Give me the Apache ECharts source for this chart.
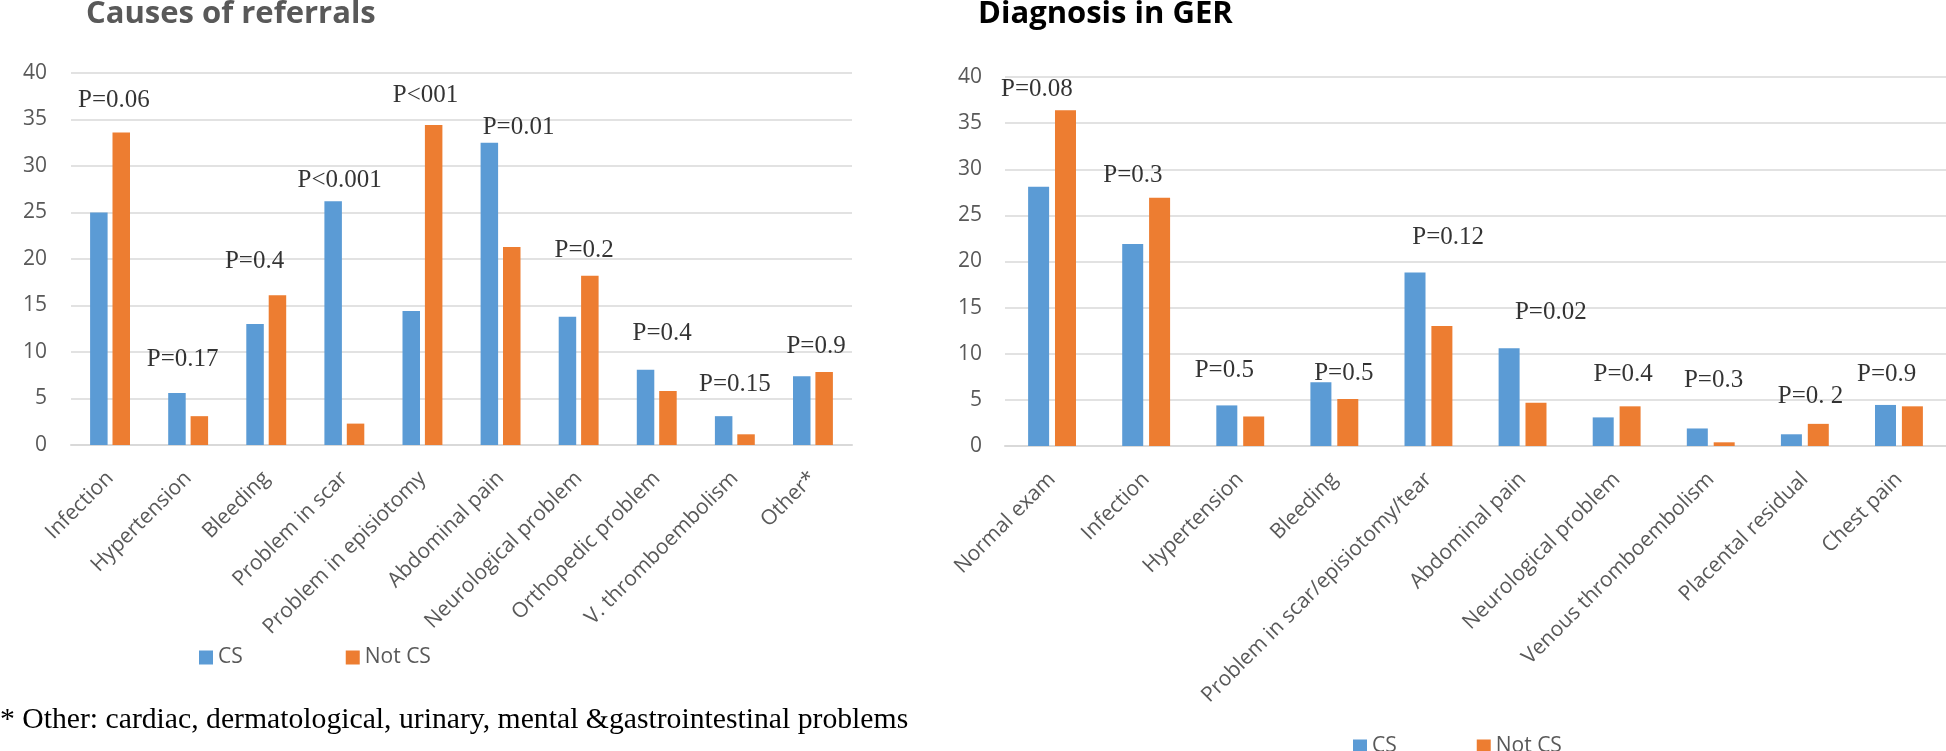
<!DOCTYPE html>
<html>
<head>
<meta charset="utf-8">
<script src="https://cdn.jsdelivr.net/npm/echarts@6/dist/echarts.min.js"></script>
<style>
html,body{margin:0;padding:0;background:#fff;}
#c{width:1946px;height:751px;}
</style>
</head>
<body>
<div id="c"></div>
<script>
// ---- Data: Causes of referrals ----
const refCats = ['Infection','Hypertension','Bleeding','Problem in scar','Problem in episiotomy','Abdominal pain','Neurological problem','Orthopedic problem','V. thromboembolism','Other*'];
const refCS = [25.0, 5.6, 13.0, 26.2, 14.4, 32.5, 13.8, 8.1, 3.1, 7.4];
const refNotCS = [33.6, 3.1, 16.1, 2.3, 34.4, 21.3, 18.2, 5.8, 1.15, 7.85];
const refP = ['P=0.06','P=0.17','P=0.4','P<0.001','P<001','P=0.01','P=0.2','P=0.4','P=0.15','P=0.9'];
const refPX = [0.05, 0.93, 1.85, 2.94, 4.04, 5.23, 6.07, 7.07, 8.0, 9.04];
const refPY = [37.1, 9.2, 19.7, 28.5, 37.6, 34.2, 20.9, 12.0, 6.55, 10.6];

// ---- Data: Diagnosis in GER ----
const gerCats = ['Normal exam','Infection','Hypertension','Bleeding','Problem in scar/episiotomy/tear','Abdominal pain','Neurological problem','Venous thromboembolism','Placental residual','Chest pain'];
const gerCS = [28.1, 21.9, 4.4, 6.9, 18.8, 10.6, 3.1, 1.9, 1.27, 4.45];
const gerNotCS = [36.4, 26.9, 3.2, 5.1, 13.0, 4.7, 4.3, 0.4, 2.4, 4.3];
const gerP = ['P=0.08','P=0.3','P=0.5','P=0.5','P=0.12','P=0.02','P=0.4','P=0.3','P=0. 2','P=0.9'];
const gerPX = [-0.16, 0.86, 1.83, 3.10, 4.21, 5.30, 6.07, 7.03, 8.06, 8.87];
const gerPY = [38.7, 29.3, 8.2, 7.9, 22.6, 14.5, 7.8, 7.07, 5.33, 7.8];

const yTicks = {min: 0, max: 40, interval: 5};
const seriesNames = ['CS', 'Not CS'];
const footnote = '* Other: cardiac, dermatological, urinary, mental &gastrointestinal problems';

const BLUE = '#5B9BD5', ORANGE = '#ED7D31', GRID = '#D9D9D9', TXT = '#595959';
const SANS = 'Open Sans', SERIF = 'Liberation Serif';

function catAxis(gridIndex, cats) {
  return {
    type: 'category', gridIndex: gridIndex, data: cats,
    axisLine: {lineStyle: {color: GRID, width: 2}},
    axisTick: {show: false},
    axisLabel: {rotate: 45, color: TXT, fontFamily: SANS, fontSize: 21, margin: 30, interval: 0}
  };
}
function hiddenX(gridIndex) {
  return {type: 'value', gridIndex: gridIndex, min: -0.5, max: 9.5, show: false};
}
function valAxis(gridIndex, margin) {
  return {
    type: 'value', gridIndex: gridIndex, min: yTicks.min, max: yTicks.max, interval: yTicks.interval,
    axisLine: {show: false}, axisTick: {show: false},
    splitLine: {lineStyle: {color: GRID, width: 1.5}},
    axisLabel: {color: TXT, fontFamily: SANS, fontSize: 21, margin: margin}
  };
}
function bars(name, data, color, xi, yi, w) {
  return {
    name: name, type: 'bar', xAxisIndex: xi, yAxisIndex: yi, data: data,
    barWidth: w, barGap: '28%', itemStyle: {color: color}, silent: true
  };
}
function pLabels(xs, ys, texts, xi, yi) {
  return {
    type: 'scatter', xAxisIndex: xi, yAxisIndex: yi, symbolSize: 1, silent: true,
    itemStyle: {color: 'rgba(0,0,0,0)'},
    data: xs.map((x, i) => ({value: [x, ys[i]], name: texts[i]})),
    label: {show: true, position: 'inside', formatter: p => p.name,
      color: '#000', fontFamily: SERIF, fontSize: 25}
  };
}

const chart = echarts.init(document.getElementById('c'));
chart.setOption({
  animation: false,
  backgroundColor: '#fff',
  title: [
    {text: 'Causes of referrals', left: 86, top: -1, padding: 0,
     textStyle: {fontFamily: SANS, fontWeight: 'bold', fontSize: 31, color: TXT}},
    {text: 'Diagnosis in GER', left: 978, top: -1, padding: 0,
     textStyle: {fontFamily: SANS, fontWeight: 'bold', fontSize: 31, color: '#000'}}
  ],
  legend: [
    {data: seriesNames, left: 199, top: 647, padding: 0, itemWidth: 14, itemHeight: 14, itemGap: 103,
     icon: 'rect', selectedMode: false,
     textStyle: {fontFamily: SANS, fontSize: 21, color: TXT}},
    {data: seriesNames, left: 1353, top: 736, padding: 0, itemWidth: 14, itemHeight: 14, itemGap: 80,
     icon: 'rect', selectedMode: false,
     textStyle: {fontFamily: SANS, fontSize: 21, color: TXT}}
  ],
  grid: [
    {left: 71, top: 73, width: 781, height: 372},
    {left: 1005, top: 77, width: 941, height: 369}
  ],
  xAxis: [catAxis(0, refCats), hiddenX(0), catAxis(1, gerCats), hiddenX(1)],
  yAxis: [valAxis(0, 24), valAxis(1, 23)],
  graphic: [
    {type: 'text', left: 0, top: 705, silent: true,
     style: {text: footnote, font: '29.7px "Liberation Serif"', fill: '#000'}}
  ],
  series: [
    bars('CS', refCS, BLUE, 0, 0, 17.5),
    bars('Not CS', refNotCS, ORANGE, 0, 0, 17.5),
    pLabels(refPX, refPY, refP, 1, 0),
    bars('CS', gerCS, BLUE, 2, 1, 21),
    bars('Not CS', gerNotCS, ORANGE, 2, 1, 21),
    pLabels(gerPX, gerPY, gerP, 3, 1)
  ]
});
</script>
</body>
</html>
